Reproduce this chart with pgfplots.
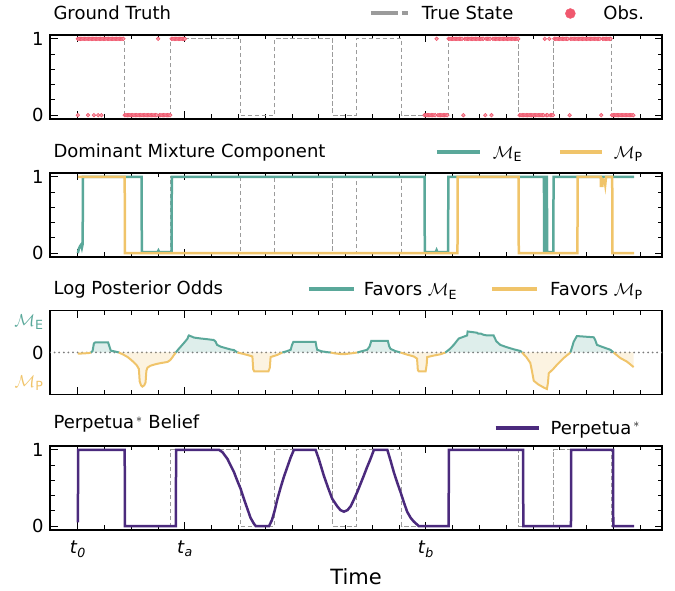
\documentclass[border=0pt]{standalone}
\usepackage{amsmath}
\usepackage{fontspec}
\setmainfont{DejaVu Sans}
\usepackage{pgfplots}
\pgfplotsset{compat=1.18}

\definecolor{obsC}{RGB}{240,88,110}
\definecolor{meC}{RGB}{90,168,154}
\definecolor{mpC}{RGB}{240,196,106}
\definecolor{purC}{RGB}{75,42,125}
\definecolor{stateC}{RGB}{155,155,155}

\newcommand{\ME}{$\mathcal{M}_{\text{E}}$}
\newcommand{\MP}{$\mathcal{M}_{\text{P}}$}
\newcommand{\fs}{\fontsize{18}{20}\selectfont}
% legend line: colour, space before, line length, gap to text
\newcommand{\legline}[4]{\path[draw=none] (-#2pt,0pt) -- (#3pt,0pt) -- ({#3pt+#4pt},0pt);
  \draw[#1, line width=4pt] (0pt,0pt) -- (#3pt,0pt);}

\pgfplotsset{
  panel/.style={
    scale only axis, width=612pt, height=84pt,
    xmin=-10.4, xmax=218.2,
    xtick={0,40,130},
    minor xtick={10,20,30,50,60,70,80,90,100,110,120,140,150,160,170,180,190,200,210},
    xticklabels={},
    tick align=inside,
    major tick length=7.5pt, minor tick length=4.5pt,
    axis line style={line width=1.1pt},
    tick style={black, line width=0.9pt},
    ticklabel style={font=\fs},
    yticklabel style={xshift=-3pt},
    title style={font=\fs, at={(axis description cs:0,1)}, anchor=base west, yshift=9.5pt},
    legend columns=2,
    legend style={draw=none, fill=none, font=\fs,
      at={(axis description cs:0.971,1.256)}, anchor=east,
      inner sep=0pt, column sep=0pt, row sep=0pt,
      nodes={inner sep=0pt, text height=15pt, text depth=2pt}},
  },
  unit/.style={ymin=-0.05, ymax=1.05, ytick={0,1}, yticklabels={0,1},
    minor ytick={0.2,0.4,0.6,0.8}},
  state/.style={stateC, line width=1pt, dash pattern=on 4.5pt off 2.5pt, const plot, forget plot},
  posfill/.style={draw=none, fill=meC, fill opacity=0.2, forget plot},
  negfill/.style={draw=none, fill=mpC, fill opacity=0.2, forget plot},
  posline/.style={meC, line width=2pt, forget plot},
  negline/.style={mpC, line width=2pt, forget plot},
  obs/.style={only marks, mark=*, mark size=1.8pt, forget plot,
    mark options={draw=obsC, fill=obsC!55, line width=0.6pt}},
}

\pgfplotstableread{
x y
0 1
17.5 0
34.7 1
60.6 0
73.6 1
95.2 0
104 1
121 0
138.4 1
164.6 0
177.6 1
199.3 0
207.8 0
}\truestate

% log posterior odds, split by sign
\pgfplotstableread{
x y
0 -0.04
2 -0.03
4 -0.02
4.9 0
}\segA
\pgfplotstableread{
x y
4.9 0
5.5 0.05
6 0.3
6.5 0.33
11.3 0.33
11.8 0.2
12.3 0.06
14 0.03
15.3 0
}\segB
\pgfplotstableread{
x y
15.3 0
17 -0.07
18.6 -0.15
20 -0.25
21 -0.33
22 -0.42
22.8 -0.54
23.1 -0.95
23.6 -1.08
24.1 -1.12
24.8 -1.08
25.3 -0.98
25.6 -0.6
26 -0.5
27 -0.44
28 -0.41
29.7 -0.37
31.5 -0.34
33.5 -0.31
34.5 -0.25
35.3 -0.16
36 -0.07
36.6 0
}\segC
\pgfplotstableread{
x y
36.6 0
37.5 0.1
39 0.25
40 0.35
41 0.46
41.3 0.54
41.5 0.56
43.4 0.49
45.9 0.46
48 0.44
50.8 0.41
51.5 0.35
52 0.25
53.4 0.19
55 0.15
57 0.1
58.3 0.08
59.6 0
}\segD
\pgfplotstableread{
x y
59.6 0
61.5 -0.04
63.3 -0.08
65.2 -0.13
65.5 -0.55
65.9 -0.62
71.2 -0.62
71.7 -0.5
72 -0.15
74.5 -0.08
76.4 0
}\segE
\pgfplotstableread{
x y
76.4 0
78 0.04
79.5 0.09
80 0.25
80.5 0.35
88.8 0.35
89.1 0.2
89.4 0.09
91 0.04
93.2 0.01
94.4 0
}\segF
\pgfplotstableread{
x y
94.4 0
96 -0.03
98 -0.05
100 -0.05
102 -0.03
104.4 0
}\segG
\pgfplotstableread{
x y
104.4 0
106 0.04
108.1 0.09
109 0.2
109.6 0.38
115.8 0.38
116.3 0.2
116.8 0.12
118.5 0.05
120.5 0
}\segH
\pgfplotstableread{
x y
120.5 0
123 -0.07
125.5 -0.13
126.7 -0.2
127 -0.58
127.4 -0.62
129.9 -0.62
130.3 -0.4
130.5 -0.15
133 -0.1
135.4 -0.06
137.3 0
}\segI
\pgfplotstableread{
x y
137.3 0
139 0.12
140.4 0.25
142.3 0.46
145.4 0.56
145.6 0.69
149.1 0.65
149.5 0.62
150.5 0.62
151.6 0.58
152.9 0.56
155.3 0.56
156.3 0.37
157.8 0.25
160 0.18
163 0.1
165.3 0.05
165.9 0
}\segJ
\pgfplotstableread{
x y
165.9 0
167.5 -0.15
169 -0.34
169.6 -0.6
170.3 -0.93
172 -1.05
174 -1.15
175.2 -1.2
175.6 -1.0
175.9 -0.68
177.5 -0.55
179 -0.4
181.5 -0.18
184 0
}\segK
\pgfplotstableread{
x y
184 0
184.7 0.2
185.2 0.35
186.4 0.54
192.7 0.5
193.3 0.4
193.9 0.25
196 0.18
198.9 0.09
200.1 0
}\segL
\pgfplotstableread{
x y
200.1 0
202.6 -0.18
205.1 -0.3
206.5 -0.4
207.6 -0.48
}\segM

\begin{document}
\begin{tikzpicture}[x=1pt,y=1pt]
\path (0,0) rectangle (675,591);

% ---------------- Ground truth
\begin{axis}[panel, unit, at={(50pt,472pt)}, anchor=south west, title={Ground Truth}]
\addplot[state] table {\truestate};
% observations equal to 1
\addplot[obs] coordinates {
(0,1)(0.5,1)(1,1)(1.5,1)(2,1)(2.5,1)(3,1)(3.5,1)(4,1)(4.5,1)(5,1)(5.5,1)(6,1)(6.5,1)(7,1)(7.5,1)
(8,1)(8.5,1)(9,1)(9.5,1)(10,1)(10.5,1)(11,1)(11.5,1)(12,1)(12.5,1)(13,1)(13.5,1)(14,1)(14.5,1)
(15,1)(15.5,1)(16,1)(16.5,1)(17,1)
(30,1)
(35,1)(35.5,1)(36,1)(36.5,1)(37,1)(37.5,1)(38,1)(38.5,1)(39,1)(39.5,1)(40,1)
(134,1)
(138.5,1)(139,1)(139.5,1)(140,1)(140.5,1)(141,1)(141.5,1)(142,1)(142.5,1)(143,1)(143.5,1)(144.5,1)
(145,1)(145.5,1)(146,1)(146.5,1)(147,1)(147.5,1)(148,1)(148.5,1)(149,1)(149.5,1)(150,1)(150.5,1)
(151,1)(151.5,1)(152.5,1)(153,1)(153.5,1)(154,1)(155,1)(155.5,1)(156,1)(156.5,1)(157,1)(157.5,1)
(158,1)(158.5,1)(159,1)(159.5,1)(160,1)(160.5,1)(161,1)(161.5,1)(162,1)(162.5,1)(163,1)(163.5,1)
(164,1)(164.5,1)
(174.4,1)(176.1,1)
(178,1)(178.5,1)(179,1)(179.5,1)(180,1)(180.5,1)(181,1)(181.5,1)(182,1)(182.5,1)(183,1)(184,1)
(184.5,1)(185,1)(185.5,1)(186,1)(186.5,1)(187,1)(187.5,1)(188,1)(188.5,1)(189,1)(189.5,1)(190,1)
(190.5,1)(191,1)(191.5,1)(192,1)(192.5,1)(193,1)(193.5,1)(194,1)(194.5,1)(195,1)(196,1)(196.5,1)
(197,1)(197.5,1)(198,1)(198.5,1)(199,1)
};
% observations equal to 0
\addplot[obs] coordinates {
(0,0)(3.8,0)(6,0)(7.6,0)(8.8,0)
(17.5,0)(18,0)(18.5,0)(19,0)(19.5,0)(20,0)(20.5,0)(21,0)(21.5,0)(22,0)(22.5,0)(23,0)(23.5,0)
(24,0)(24.5,0)(25,0)(25.5,0)(26,0)(26.5,0)(27,0)(27.5,0)(28,0)(28.5,0)(29,0)(29.5,0)(30.5,0)
(31,0)(31.5,0)(32,0)(32.5,0)(33,0)(33.5,0)(34,0)(34.5,0)
(129.5,0)(130,0)(130.5,0)(131,0)(131.5,0)(132,0)(132.5,0)(133,0)(133.5,0)(134.5,0)(135,0)
(135.5,0)(136,0)(136.5,0)(137,0)(137.5,0)(138,0)
(144,0)(152.2,0)(154.5,0)
(165,0)(165.5,0)(166,0)(166.5,0)(167,0)(167.5,0)(168,0)(168.5,0)(169,0)(169.5,0)(170,0)
(170.5,0)(171,0)(171.5,0)(172,0)(172.5,0)(173,0)(173.5,0)(174,0)(175,0)(175.5,0)(176.5,0)
(177,0)(177.5,0)
(183.7,0)(195.5,0)
(199.5,0)(200,0)(200.5,0)(201,0)(201.5,0)(202,0)(202.5,0)(203,0)(203.5,0)(204,0)(204.5,0)
(205,0)(205.5,0)(206,0)(206.5,0)(207,0)(207.5,0)
};
\addlegendimage{legend image code/.code={\path[draw=none] (0pt,0pt) -- (51pt,0pt);
  \draw[stateC, line width=4pt, dash pattern=on 27pt off 4pt] (0pt,0pt) -- (37pt,0pt);}}
\addlegendentry{True State}
\addlegendimage{legend image code/.code={\path[draw=none] (-45pt,0pt) -- (45pt,0pt);
  \fill[obsC] (12pt,0pt) circle (5pt);}}
\addlegendentry{Obs.}
\end{axis}

% ---------------- Dominant mixture component
\begin{axis}[panel, unit, at={(50pt,334pt)}, anchor=south west, title={Dominant Mixture Component},
  legend style={at={(axis description cs:0.969,1.254)}}]
\addplot[state] table {\truestate};
\addplot[meC, line width=2.5pt, forget plot] coordinates {
(0,0)(0.4,0.06)(0.8,0.09)(1.2,0.11)(1.5,0.07)(1.8,0.12)(1.9,1)(23.8,1)(23.9,0.015)
(29.8,0.015)(30.1,0.035)(30.4,0.015)(35,0.015)(35.1,1)(129.5,1)(129.6,0.015)
(133.7,0.015)(134,0.04)(134.3,0.015)(138.3,0.015)(138.4,1)(174.1,1)(174.2,0.015)
(174.9,0.015)(175,1)(175.2,1)(175.3,0.015)(177.6,0.015)(177.7,1)(207.8,1)
};
\addplot[mpC, line width=2.5pt, forget plot] coordinates {
(0,1)(17.5,1)(17.6,0)(141.8,0)(141.9,1)(164.6,1)(164.7,0)(186.6,0)(186.7,1)
(195.3,1)(195.4,0.88)(195.9,0.88)(196,0.97)(196.8,0.95)(197,0.9)(197.3,1)(199.6,1)(199.7,0)(207.8,0)
};
\addlegendimage{legend image code/.code={\legline{meC}{0}{43}{13}}}
\addlegendentry{\ME}
\addlegendimage{legend image code/.code={\legline{mpC}{38}{42}{12}}}
\addlegendentry{\MP}
\end{axis}

% ---------------- Log posterior odds
\begin{axis}[panel, at={(50pt,196.5pt)}, anchor=south west, title={Log Posterior Odds},
  ymin=-1.38, ymax=1.38, ytick={-1,0,1},
  yticklabels={{\color{mpC}\MP}, 0, {\color{meC}\ME}},
  ytick style={draw=none},
  legend style={at={(axis description cs:0.969,1.25)}}]
\addplot[stateC!80!black, line width=2pt, line cap=round, dash pattern=on 0pt off 4.6pt, forget plot]
  coordinates {(-10.4,0)(218.2,0)};
\addplot[negfill] table {\segA} \closedcycle;
\addplot[posfill] table {\segB} \closedcycle;
\addplot[negfill] table {\segC} \closedcycle;
\addplot[posfill] table {\segD} \closedcycle;
\addplot[negfill] table {\segE} \closedcycle;
\addplot[posfill] table {\segF} \closedcycle;
\addplot[negfill] table {\segG} \closedcycle;
\addplot[posfill] table {\segH} \closedcycle;
\addplot[negfill] table {\segI} \closedcycle;
\addplot[posfill] table {\segJ} \closedcycle;
\addplot[negfill] table {\segK} \closedcycle;
\addplot[posfill] table {\segL} \closedcycle;
\addplot[negfill] table {\segM} \closedcycle;
\addplot[negline] table {\segA};
\addplot[posline] table {\segB};
\addplot[negline] table {\segC};
\addplot[posline] table {\segD};
\addplot[negline] table {\segE};
\addplot[posline] table {\segF};
\addplot[negline] table {\segG};
\addplot[posline] table {\segH};
\addplot[negline] table {\segI};
\addplot[posline] table {\segJ};
\addplot[negline] table {\segK};
\addplot[posline] table {\segL};
\addplot[negline] table {\segM};
\addlegendimage{legend image code/.code={\legline{meC}{0}{45}{10}}}
\addlegendentry{Favors \ME}
\addlegendimage{legend image code/.code={\legline{mpC}{35}{45}{13}}}
\addlegendentry{Favors \MP}
\end{axis}

% ---------------- Perpetua belief
\begin{axis}[panel, unit, at={(50pt,61pt)}, anchor=south west, title={Perpetua$^{\,\ast}$ Belief},
  title style={yshift=2pt},
  xticklabels={\textit{t}\textsubscript{\textit{0}}, \textit{t}\textsubscript{\textit{a}}, \textit{t}\textsubscript{\textit{b}}},
  xticklabel style={anchor=base, yshift=-24pt},
  xlabel={Time},
  every axis x label/.style={at={(axis description cs:0.5,0)}, anchor=base, yshift=-55pt,
    font=\fontsize{21}{24}\selectfont},
  legend columns=1,
  legend style={at={(axis description cs:0.964,1.218)}}]
\addplot[state] table {\truestate};
\addplot[purC, line width=2.5pt, forget plot] coordinates {
(0,0.05)(0.15,1)(17.5,1)(17.6,0)(36.6,0)(36.7,1)(52.7,1)(54,0.97)(55.9,0.88)(57,0.8)(58.3,0.71)
(59.5,0.6)(60.8,0.49)(62,0.36)(63.3,0.23)(64.5,0.11)(65.8,0.03)(66.5,0)(71.4,0)(72.5,0.08)
(73.5,0.2)(74.5,0.35)(75.7,0.5)(77,0.65)(78.3,0.78)(79.5,0.9)(80.7,1)(88.8,1)(90,0.88)
(91.9,0.66)(93.5,0.5)(95,0.36)(96.9,0.26)(98.1,0.21)(99.4,0.19)(100.7,0.21)(101.9,0.26)
(103,0.34)(104.4,0.45)(106.8,0.66)(108,0.77)(109.3,0.88)(110.6,1)(115.6,1)(116.8,0.86)
(118,0.71)(119.3,0.57)(120.5,0.45)(121.8,0.31)(123,0.19)(124.3,0.11)(125.5,0.06)(127.4,0)
(138.5,0)(138.6,1)(166.3,1)(166.4,0)(184.2,0)(184.3,1)(199.9,1)(200,0)(207.8,0)
};
\addlegendimage{legend image code/.code={\legline{purC}{0}{43}{12}}}
\addlegendentry{Perpetua$^{\,\ast}$}
\end{axis}
\end{tikzpicture}
\end{document}
